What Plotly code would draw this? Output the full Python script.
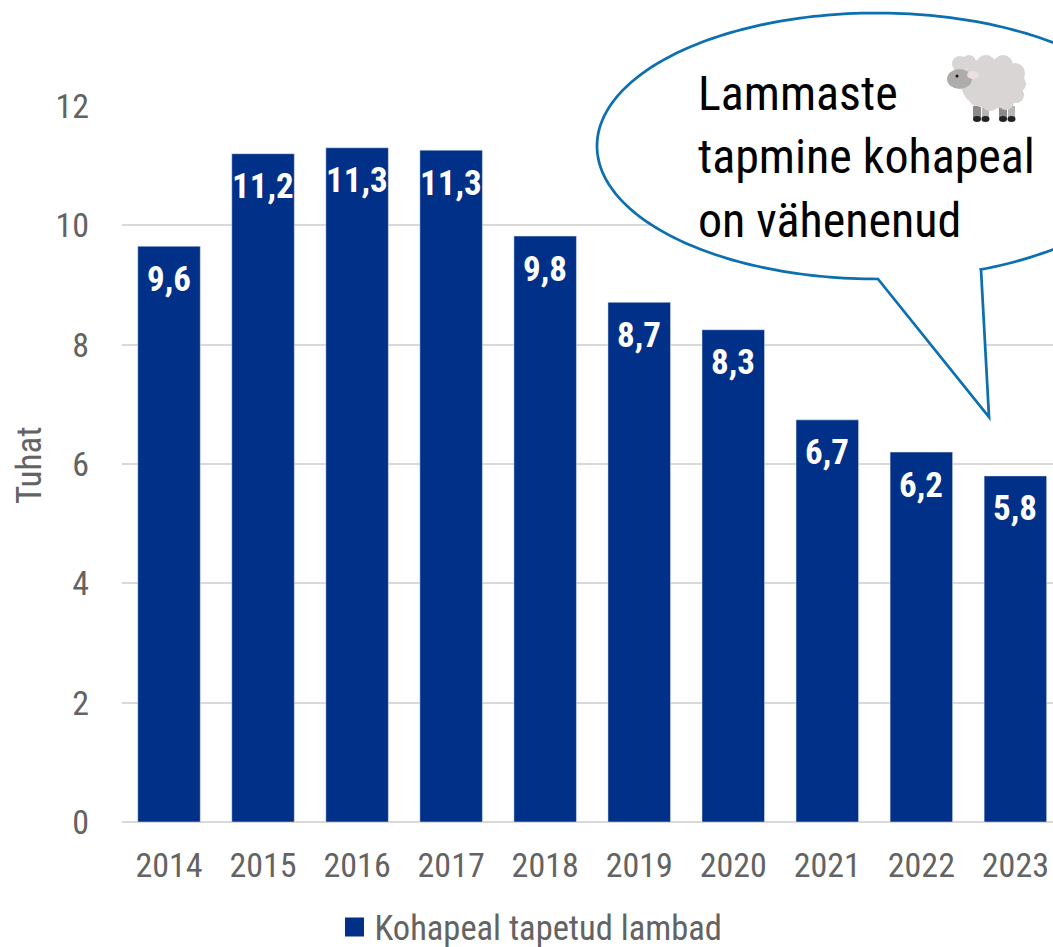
import numpy as np
import plotly.graph_objects as go

years = ["2014", "2015", "2016", "2017", "2018", "2019", "2020", "2021", "2022", "2023"]
values = [9.65, 11.2, 11.3, 11.26, 9.82, 8.71, 8.25, 6.74, 6.2, 5.8]
labels = ["9,6", "11,2", "11,3", "11,3", "9,8", "8,7", "8,3", "6,7", "6,2", "5,8"]
y_ticks = [0, 2, 4, 6, 8, 10, 12]
y_title = "Tuhat"
series_name = "Kohapeal tapetud lambad"
callout_lines = ["Lammaste", "tapmine kohapeal", "on vähenenud"]

W, H = 1053, 947
L, T, B = 122, 106, 125
FONT = "Roboto Condensed, Liberation Sans Narrow, Roboto, sans-serif"
NAVY = "#003087"
GREY = "#636363"
BLUE = "#0B6FB0"

def px(x):
    return (x - L) / (W - L)

def py(y):
    return (H - B - y) / (H - B - T)

fig = go.Figure()
fig.add_trace(go.Bar(x=years, y=values, marker=dict(color=NAVY), width=0.665,
                     showlegend=False, hoverinfo="x+y"))
fig.add_trace(go.Scatter(x=[None], y=[None], mode="markers", name=series_name,
                         marker=dict(symbol="square", size=16, color=NAVY,
                                     line=dict(color=NAVY, width=3))))

annotations = [
    dict(x=i, y=v, text=t, xref="x", yref="y", showarrow=False, yanchor="middle",
         yshift=-33, xshift=-0.5, font=dict(family=FONT, size=35, color="white", weight="bold"))
    for i, (v, t) in enumerate(zip(values, labels))
]
annotations.append(dict(x=px(29), y=py(465), xref="paper", yref="paper", text=y_title,
                        textangle=-90, showarrow=False, xanchor="center", yanchor="middle",
                        font=dict(family=FONT, size=35, color=GREY)))

# speech bubble
cx, cy, rx, ry = 877, 146, 280, 133
tail = [(878, 279), (989, 417), (981, 269.5)]
a_start = np.arctan2((269.5 - cy) / ry, (981 - cx) / rx)
a_end = np.arctan2((279 - cy) / ry, (878 - cx) / rx)
angles = np.linspace(a_start, a_end - 2 * np.pi, 240)
pts = tail + [(cx + rx * np.cos(a), cy + ry * np.sin(a)) for a in angles]
path = "M " + " L ".join(f"{px(a):.5f},{py(b):.5f}" for a, b in pts) + " Z"
shapes = [dict(type="path", path=path, xref="paper", yref="paper", fillcolor="white",
               line=dict(color=BLUE, width=2.75), layer="above")]

def blob(x, y, r, color, ry_=None):
    ry2 = ry_ if ry_ is not None else r
    return dict(type="circle", xref="paper", yref="paper", x0=px(x - r), x1=px(x + r),
                y0=py(y + ry2), y1=py(y - ry2), fillcolor=color, line=dict(width=0), layer="above")

def box(x0, x1, y0, y1, color):
    return dict(type="rect", xref="paper", yref="paper", x0=px(x0), x1=px(x1),
                y0=py(y1), y1=py(y0), fillcolor=color, line=dict(width=0), layer="above")

WOOL = "#D9D5D5"
shapes += [
    box(973, 981, 106, 118, "#8C8A8A"), box(982, 989, 106, 118, "#B8B5B5"),
    box(999, 1007, 106, 118, "#8C8A8A"), box(1008, 1015, 106, 118, "#B8B5B5"),
    blob(977, 119, 4, "#222222", 3), blob(985.5, 119, 4, "#222222", 3),
    blob(1003, 119, 4, "#222222", 3), blob(1011.5, 119, 4, "#222222", 3),
    blob(991, 84, 30, WOOL, 25),
    blob(960, 64, 8, WOOL), blob(969, 62, 7, WOOL), blob(977, 67, 7, WOOL),
    blob(986, 65, 10, WOOL), blob(1003, 65, 10, WOOL), blob(1015, 73, 10, WOOL),
    blob(1018, 84, 8, WOOL), blob(1016, 95, 8, WOOL), blob(1006, 102, 8, WOOL),
    blob(990, 103, 8, WOOL), blob(977, 98, 8, WOOL), blob(968, 80, 10, WOOL),
    blob(959.5, 79, 12.5, "#AEABAB", 10), blob(973, 75, 6, "#ECDFE0", 4),
    blob(957, 76, 1.5, "#111111"),
]

for line, yy in zip(callout_lines, [93, 157, 220]):
    annotations.append(dict(x=px(696), y=py(yy), xref="paper", yref="paper", text=line,
                            showarrow=False, xanchor="left", yanchor="middle", align="left",
                            font=dict(family=FONT, size=48, color="black")))

fig.update_layout(
    width=W, height=H, margin=dict(l=L, r=0, t=T, b=B, autoexpand=False),
    paper_bgcolor="white", plot_bgcolor="white",
    font=dict(family=FONT, size=34, color=GREY),
    bargap=0.33, annotations=annotations, shapes=shapes,
    xaxis=dict(type="category", categoryorder="array", categoryarray=years, range=[-0.5, 9.4],
               showgrid=False, showline=False, ticks="", tickfont=dict(size=34, color=GREY),
               ticklabelstandoff=20, automargin=False),
    yaxis=dict(range=[0, 12], tickvals=y_ticks, gridcolor="#D9D9D9", gridwidth=2,
               zeroline=True, zerolinecolor="#D9D9D9", zerolinewidth=2, showline=False,
               ticks="", tickfont=dict(size=34, color=GREY), ticklabelstandoff=32,
               automargin=False),
    legend=dict(orientation="h", x=px(531), xanchor="center", y=py(927), yanchor="middle",
                font=dict(size=34.5, color=GREY), bgcolor="rgba(0,0,0,0)", itemsizing="trace"),
)

fig.write_html("out.html", config=dict(displayModeBar=False),
               post_script="document.body.style.margin='0';document.body.style.overflow='hidden';")
